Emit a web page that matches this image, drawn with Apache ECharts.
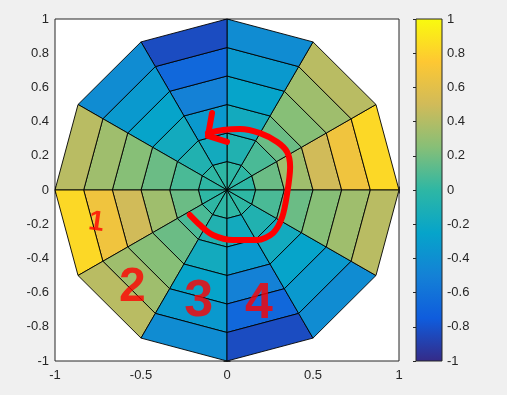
<!DOCTYPE html>
<html><head><meta charset="utf-8">
<script src="https://cdn.jsdelivr.net/npm/echarts@6/dist/echarts.min.js"></script>
<style>html,body{margin:0;padding:0;background:#f0f0f0}#c{width:507px;height:395px}</style>
</head><body><div id="c"></div>
<script>
// Polar mesh: sector edges (degrees) and ring edges (radius)
const sectorAngles = [0, 30, 60, 90, 120, 150, 180, 210, 240, 270, 300, 330, 360];
const ringRadii = [0, 1/6, 2/6, 3/6, 4/6, 5/6, 1];
// Cell colour values, one array per ring (inner -> outer), one entry per sector (0deg -> 330deg)
const ring1 = [0, 0, 0, 0, 0, 0, 0, 0, 0, 0, 0, 0];
const ring2 = [0.17, 0.08, -0.08, -0.17, -0.08, 0.08, 0.17, 0.08, -0.08, -0.17, -0.08, 0.08];
const ring3 = [0.33, 0.17, -0.17, -0.33, -0.17, 0.17, 0.33, 0.17, -0.17, -0.33, -0.17, 0.17];
const ring4 = [0.5, 0.25, -0.25, -0.5, -0.25, 0.25, 0.5, 0.25, -0.25, -0.5, -0.25, 0.25];
const ring5 = [0.67, 0.33, -0.33, -0.67, -0.33, 0.33, 0.67, 0.33, -0.33, -0.67, -0.33, 0.33];
const ring6 = [0.83, 0.42, -0.42, -0.83, -0.42, 0.42, 0.83, 0.42, -0.42, -0.83, -0.42, 0.42];
const rings = [ring1, ring2, ring3, ring4, ring5, ring6];
// Colormap (parula)
const parula = ['#352a87', '#0f5cdd', '#1481d6', '#06a4ca', '#2eb7a4', '#87bf77', '#d1bb59', '#fec832', '#f9fb0e'];
// Hand-drawn red annotations (data coordinates)
const arrowPath = [[-0.216,-0.146],[-0.157,-0.205],[-0.082,-0.263],[0.035,-0.292],[0.175,-0.292],[0.268,-0.251],[0.321,-0.158],[0.350,-0.018],[0.367,0.135],[0.350,0.222],[0.292,0.281],[0.192,0.333],[0.076,0.357],[-0.023,0.351],[-0.111,0.333]];
const arrowHead = [[-0.087,0.450],[-0.111,0.316],[0.0,0.281]];
const digitText = ['1', '2', '3', '4'];
const digitX = [-0.76, -0.55, -0.165, 0.185];
const digitY = [-0.19, -0.57, -0.655, -0.67];
const digitSize = [28, 48, 52, 50];

const cellData = [];
rings.forEach((ring, j) => ring.forEach((v, k) => cellData.push([k, j, v])));

const FONT = '"Liberation Sans", Arial, sans-serif';
const TXT = '#262626';
const chart = echarts.init(document.getElementById('c'), null, {renderer: 'canvas'});

const axisCommon = {
  axisLine: {show: false},
  axisTick: {show: true, inside: true, length: 3.5, lineStyle: {color: TXT}},
  splitLine: {show: false},
  axisLabel: {color: TXT, fontSize: 13, fontFamily: FONT}
};

chart.setOption({
  backgroundColor: '#f0f0f0',
  animation: false,
  grid: [
    {left: 55, top: 19, width: 344, height: 342, show: true, backgroundColor: '#ffffff', borderColor: TXT, borderWidth: 1},
    {left: 416, top: 19, width: 26, height: 342, show: false}
  ],
  xAxis: [
    Object.assign({}, axisCommon, {type: 'value', gridIndex: 0, min: -1, max: 1, interval: 0.5, position: 'bottom',
      axisLabel: Object.assign({}, axisCommon.axisLabel, {margin: 8})}),
    Object.assign({}, axisCommon, {type: 'value', gridIndex: 0, min: -1, max: 1, interval: 0.5, position: 'top',
      axisLabel: {show: false}}),
    {type: 'value', gridIndex: 1, min: 0, max: 1, show: false}
  ],
  yAxis: [
    Object.assign({}, axisCommon, {type: 'value', gridIndex: 0, min: -1, max: 1, interval: 0.2, position: 'left',
      axisLabel: Object.assign({}, axisCommon.axisLabel, {margin: 6})}),
    Object.assign({}, axisCommon, {type: 'value', gridIndex: 0, min: -1, max: 1, interval: 0.2, position: 'right',
      axisLabel: {show: false}}),
    Object.assign({}, axisCommon, {type: 'value', gridIndex: 1, min: -1, max: 1, interval: 0.2, position: 'right',
      axisTick: {show: true, inside: true, length: 3, lineStyle: {color: TXT}},
      axisLabel: Object.assign({}, axisCommon.axisLabel, {margin: 5})})
  ],
  visualMap: {
    type: 'continuous', show: false, min: -1, max: 1, dimension: 2, seriesIndex: 0,
    inRange: {color: parula}
  },
  series: [
    {
      type: 'custom', xAxisIndex: 0, yAxisIndex: 0, data: cellData,
      encode: {x: 0, y: 1},
      renderItem: function (params, api) {
        const k = api.value(0), j = api.value(1);
        const a0 = sectorAngles[k] * Math.PI / 180, a1 = sectorAngles[k + 1] * Math.PI / 180;
        const r0 = ringRadii[j], r1 = ringRadii[j + 1];
        const pts = [[r0, a0], [r1, a0], [r1, a1], [r0, a1]].map(p => api.coord([p[0] * Math.cos(p[1]), p[0] * Math.sin(p[1])]));
        return {type: 'polygon', shape: {points: pts}, style: {fill: api.visual('color'), stroke: '#000', lineWidth: 0.9}};
      }
    },
    {
      type: 'custom', xAxisIndex: 2, yAxisIndex: 2, data: [[0, 0]],
      renderItem: function (params, api) {
        const p0 = api.coord([0, 1]), p1 = api.coord([1, -1]);
        const stops = parula.map((c, i) => ({offset: i / (parula.length - 1), color: c}));
        return {type: 'rect', shape: {x: p0[0], y: p0[1], width: p1[0] - p0[0], height: p1[1] - p0[1]},
          style: {fill: new echarts.graphic.LinearGradient(0, 1, 0, 0, stops), stroke: TXT, lineWidth: 1}};
      }
    },
    {
      type: 'line', xAxisIndex: 0, yAxisIndex: 0, data: arrowPath, smooth: 0.3, symbol: 'none',
      lineStyle: {color: '#f00', width: 6, cap: 'round', join: 'round'}, silent: true, z: 5
    },
    {
      type: 'line', xAxisIndex: 0, yAxisIndex: 0, data: arrowHead, symbol: 'none',
      lineStyle: {color: '#f00', width: 6, cap: 'round', join: 'round'}, silent: true, z: 5
    },
    {
      type: 'scatter', xAxisIndex: 0, yAxisIndex: 0, symbolSize: 0, z: 6, silent: true,
      data: digitText.map((t, i) => ({
        value: [digitX[i], digitY[i]], name: t,
        label: {show: true, position: 'inside', formatter: t, color: '#f00', fontSize: digitSize[i],
          fontWeight: 'bold', fontFamily: FONT, rotate: i === 0 ? -8 : 0}
      }))
    }
  ]
});
</script></body></html>
